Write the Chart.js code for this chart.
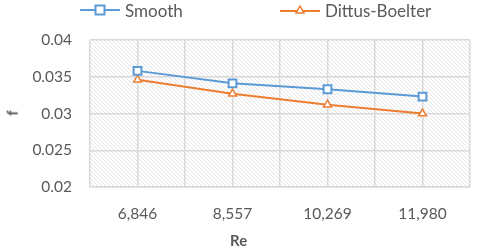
<!DOCTYPE html>
<html>
<head>
<meta charset="utf-8">
<script src="https://cdn.jsdelivr.net/npm/chart.js@4"></script>
<style>
  html, body { margin: 0; padding: 0; background: #fff; }
  #wrap { position: relative; width: 480px; height: 251px; font-family: Lato, "Open Sans", sans-serif; color: #595959; }
  #c { position: absolute; left: 0; top: 0; }
  .leg { position: absolute; top: 0; height: 20px; display: flex; align-items: center; font-size: 17px; color: #595959; }
  .leg svg { margin-right: 5px; }
  .ttl { position: absolute; font-weight: bold; font-size: 15px; color: #595959; }
</style>
</head>
<body>
<div id="wrap">
  <canvas id="c" width="480" height="251"></canvas>
  <div class="leg" style="left:80px;">
    <svg width="40" height="14"><line x1="0" y1="7" x2="40" y2="7" stroke="#5B9BD5" stroke-width="2"/><rect x="15.5" y="2.5" width="9" height="9" fill="#fff" stroke="#5B9BD5" stroke-width="2"/></svg>
    <span id="l1">Smooth</span>
  </div>
  <div class="leg" style="left:280px;">
    <svg width="40" height="14"><line x1="0" y1="8" x2="40" y2="8" stroke="#ED7D31" stroke-width="2"/><polygon points="20,3 24,10 16,10" fill="#fff" stroke="#ED7D31" stroke-width="1.5"/></svg>
    <span id="l2">Dittus-Boelter</span>
  </div>
  <div class="ttl" style="left:9px; top:104px; transform: rotate(-90deg); transform-origin: center;">f</div>
  <div class="ttl" style="left:230px; top:231px;">Re</div>
</div>
<script>
const categories = ["6,846", "8,557", "10,269", "11,980"];
const smoothValues = [0.0358, 0.0341, 0.0333, 0.0323];
const dittusValues = [0.0346, 0.0327, 0.0312, 0.0300];
const seriesNames = ["Smooth", "Dittus-Boelter"];
const yTicks = [0.02, 0.025, 0.03, 0.035, 0.04];

function makePattern(ctx) {
  const t = document.createElement('canvas');
  t.width = 4; t.height = 4;
  const g = t.getContext('2d');
  g.fillStyle = '#ffffff';
  g.fillRect(0, 0, 4, 4);
  g.fillStyle = '#e4e4e4';
  for (let i = 0; i < 4; i++) g.fillRect(i, i, 1, 1);
  return ctx.createPattern(t, 'repeat');
}

const hatchPlugin = {
  id: 'hatch',
  beforeDraw(chart) {
    const { ctx, chartArea: a } = chart;
    ctx.save();
    ctx.fillStyle = makePattern(ctx);
    ctx.fillRect(a.left, a.top, a.right - a.left, a.bottom - a.top);
    ctx.restore();
  }
};

const gridColor = '#d9d9d9';
new Chart(document.getElementById('c'), {
  type: 'line',
  data: {
    labels: categories,
    datasets: [
      { label: seriesNames[0], data: smoothValues, borderColor: '#5B9BD5', backgroundColor: '#ffffff',
        borderWidth: 2, pointStyle: 'rect', pointRadius: 5.5, pointBorderWidth: 2, tension: 0 },
      { label: seriesNames[1], data: dittusValues, borderColor: '#ED7D31', backgroundColor: '#ffffff',
        borderWidth: 2, pointStyle: 'triangle', pointRadius: 4.5, pointBorderWidth: 1.5, tension: 0 }
    ]
  },
  options: {
    responsive: false,
    animation: false,
    layout: { padding: { top: 40, right: 10, left: 0, bottom: 0 } },
    plugins: { legend: { display: false }, tooltip: { enabled: false } },
    scales: {
      x: {
        offset: true,
        grid: { offset: true, color: gridColor, lineWidth: 1.5, drawTicks: false },
        border: { color: gridColor, width: 1.5 },
        ticks: { padding: 18, color: '#595959', font: { family: 'Lato', size: 15.5 } },
        afterFit(s) { s.height = 64; }
      },
      x2: {
        type: 'category',
        position: 'bottom',
        offset: true,
        grid: { offset: false, color: gridColor, lineWidth: 1.5, drawTicks: false },
        border: { display: false },
        ticks: { display: false },
        afterFit(s) { s.height = 0; }
      },
      y: {
        min: 0.02, max: 0.04,
        afterBuildTicks(s) { s.ticks = yTicks.map(v => ({ value: v })); },
        grid: { color: gridColor, lineWidth: 1.5, drawTicks: false },
        border: { display: false },
        ticks: { padding: 18, color: '#595959', font: { family: 'Lato', size: 15.5 },
          callback: v => String(+Number(v).toFixed(3)) },
        afterFit(s) { s.width = 90; }
      }
    }
  },
  plugins: [hatchPlugin]
});
</script>
</body>
</html>
